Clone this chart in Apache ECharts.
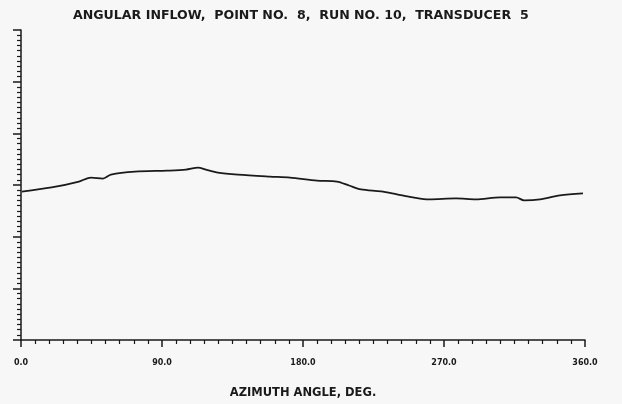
<!DOCTYPE html>
<html>
<head>
<meta charset="utf-8">
<script src="https://cdn.jsdelivr.net/npm/echarts@6/dist/echarts.min.js"></script>
<style>html,body{margin:0;padding:0;background:#f7f7f7;}#c{width:622px;height:404px;}</style>
</head>
<body>
<div id="c"></div>
<script>
const titleText = 'ANGULAR INFLOW,  POINT NO.  8,  RUN NO. 10,  TRANSDUCER  5';
const xAxisName = 'AZIMUTH ANGLE, DEG.';
const xTickLabels = {0: '0.0', 90: '90.0', 180: '180.0', 270: '270.0', 360: '360.0'};
const azimuth = [0.5, 19.5, 37.0, 44.7, 52.3, 57.4, 72.8, 93.2, 105.3, 113.0, 118.1, 125.7, 138.5, 158.9, 171.7, 188.9, 201.7, 209.4, 217.0, 229.8, 240.0, 250.2, 260.4, 277.7, 290.4, 305.7, 316.0, 321.1, 331.3, 344.0, 358.7];
const inflow = [-1.30, -0.48, 0.67, 1.44, 1.25, 2.01, 2.59, 2.78, 2.97, 3.36, 2.97, 2.40, 2.01, 1.63, 1.44, 0.86, 0.67, -0.10, -0.86, -1.25, -1.82, -2.40, -2.78, -2.59, -2.78, -2.40, -2.40, -2.97, -2.78, -2.01, -1.63];

const chart = echarts.init(document.getElementById('c'));
const ink = '#1a1a1a';
const font = 'DejaVu Sans';
chart.setOption({
  backgroundColor: '#f7f7f7',
  animation: false,
  title: {
    text: titleText, left: 68, top: 4,
    textStyle: {fontFamily: font, fontWeight: 'bold', fontSize: 12.6, color: ink}
  },
  grid: {left: 21, right: 37, top: 30, bottom: 61},
  xAxis: {
    type: 'value', min: 0, max: 360, interval: 90,
    name: xAxisName, nameLocation: 'middle', nameGap: 47,
    nameTextStyle: {fontFamily: font, fontWeight: 'bold', fontSize: 11.5, color: ink},
    axisLine: {onZero: false, lineStyle: {color: ink, width: 1.5}},
    axisTick: {show: true, length: 7, lineStyle: {color: ink, width: 1.5}},
    minorTick: {show: true, splitNumber: 10, length: 4, lineStyle: {color: ink, width: 1.2}},
    splitLine: {show: false},
    axisLabel: {margin: 19, fontFamily: font, fontWeight: 'bold', fontSize: 8, color: ink,
      formatter: v => xTickLabels[v] || ''}
  },
  yAxis: {
    type: 'value', min: -30, max: 30, interval: 10,
    axisLine: {show: true, onZero: false, lineStyle: {color: ink, width: 1.5}},
    axisTick: {show: true, length: 8, lineStyle: {color: ink, width: 1.5}},
    minorTick: {show: true, splitNumber: 10, length: 4, lineStyle: {color: ink, width: 1.2}},
    splitLine: {show: false},
    axisLabel: {show: false}
  },
  series: [{
    type: 'line', data: azimuth.map((a, i) => [a, inflow[i]]),
    showSymbol: false, smooth: 0.3,
    lineStyle: {color: ink, width: 1.8}
  }]
});
</script>
</body>
</html>
